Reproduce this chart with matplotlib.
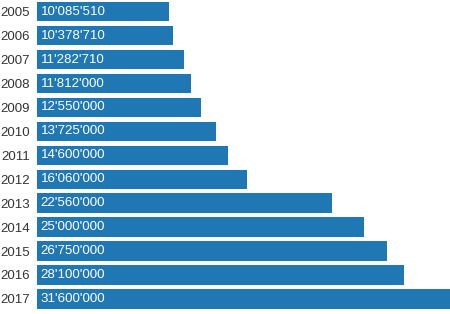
import matplotlib.pyplot as plt

years = ['2005', '2006', '2007', '2008', '2009', '2010', '2011',
         '2012', '2013', '2014', '2015', '2016', '2017']
values = [10085510, 10378710, 11282710, 11812000, 12550000, 13725000, 14600000,
          16060000, 22560000, 25000000, 26750000, 28100000, 31600000]

plt.rcParams['font.family'] = ['Liberation Sans', 'DejaVu Sans']

fig = plt.figure(figsize=(4.5, 3.14), dpi=100)
ax = fig.add_axes([37/450, 0, 1 - 37/450, 1])

pos = list(range(len(years)))
ax.barh(pos, values, height=0.81, color='#1f77b4')

for p, v in zip(pos, values):
    lab = "{:,}".format(v).replace(',', "'")
    ax.text(2.7e5, p, lab, color='white', fontsize=9.6,
            va='center', ha='left')

ax.set_xlim(0, 31600000)
ax.set_ylim(12.63, -0.49)
ax.set_yticks(pos)
ax.set_yticklabels(years, fontsize=9.5, color='#333333')
ax.tick_params(axis='y', length=0, pad=5)
ax.set_xticks([])
for s in ax.spines.values():
    s.set_visible(False)

fig.savefig('out.png', dpi=100)
